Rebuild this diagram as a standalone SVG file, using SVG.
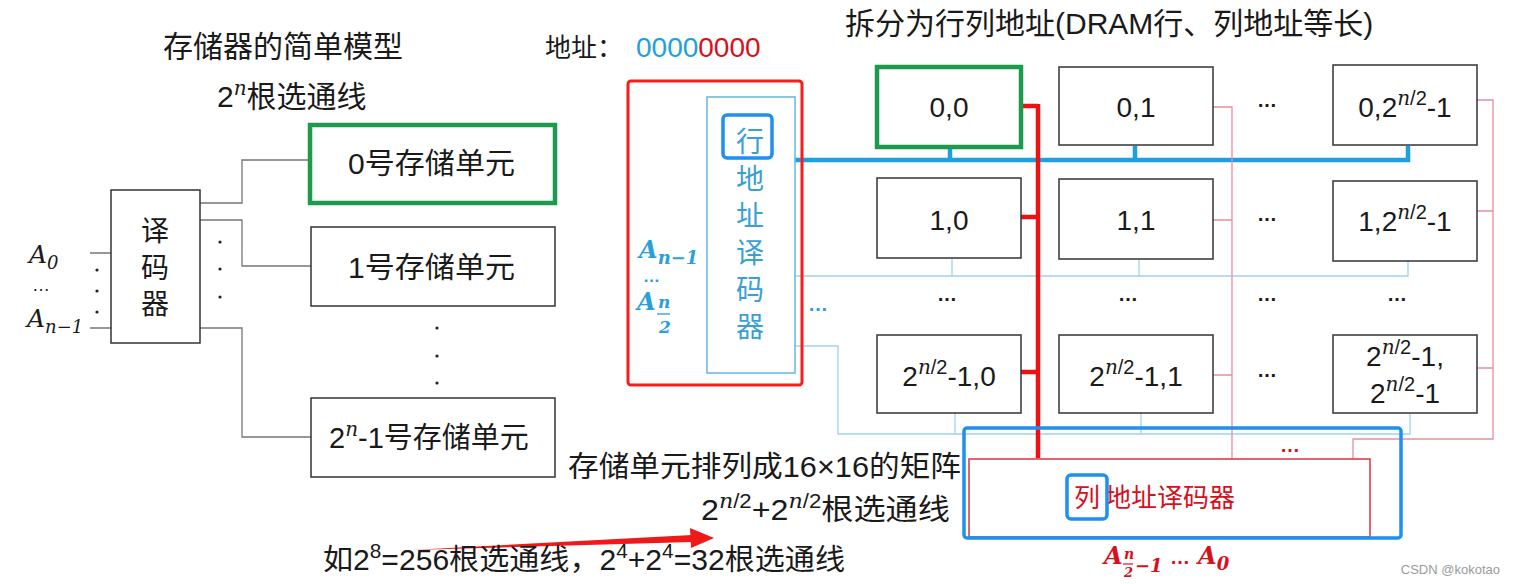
<svg xmlns="http://www.w3.org/2000/svg" width="1516" height="584" viewBox="0 0 1516 584">
<style>
.t{font-family:"Liberation Sans","Noto Sans CJK SC",sans-serif;fill:#1a1a1a}
.m{font-family:"DejaVu Serif","Liberation Serif",serif;font-style:italic}
.box{fill:#fff;stroke:#333;stroke-width:1.5}
.gbox{fill:#fff;stroke:#1e9a4c;stroke-width:4.5}
.wire{fill:none;stroke:#777;stroke-width:1.3}
.lb{fill:none;stroke:#9dd3ec;stroke-width:1.3}
.tb{fill:none;stroke:#1ea0e0;stroke-width:4.5}
.rl{fill:none;stroke:#ee1111;stroke-width:4.5}
.pk{fill:none;stroke:#e68fa0;stroke-width:1.3}
.hl{fill:none;stroke:#1e90f0;stroke-width:3.5}
.dot{fill:#222}
.cell{font-size:28px;text-anchor:middle}
.sup{font-size:20px}
.ell{font-size:20px;font-weight:bold}
</style>
<rect width="1516" height="584" fill="#fff"/>

<!-- titles -->
<g id="titles">
<text class="t" x="163" y="57" font-size="30">存储器的简单模型</text>
<text class="t" x="217" y="107" font-size="30">2<tspan class="m sup" dy="-12">n</tspan><tspan dy="12">根选通线</tspan></text>
<text class="t" x="545" y="57" font-size="26">地址：</text>
<text x="636" y="57" font-size="28" font-family="Liberation Sans,sans-serif"><tspan fill="#1ea0e0">0000</tspan><tspan fill="#d8101c">0000</tspan></text>
<text class="t" x="845" y="34" font-size="30">拆分为行列地址(DRAM行、列地址等长)</text>
</g>

<!-- connectors -->
<g id="connectors">
<path class="wire" d="M90,253 H111 M90,328 H111 M200,203 H242 V160 H310 M200,220 H242 V266 H311 M200,328 H242 V437 H311"/>
<path class="tb" d="M795,160 H1408 V146 M950,160 V147 M1135,160 V146"/>
<path class="lb" d="M795,276 H1408 V261 M952,276 V259 M1139,276 V260"/>
<path class="lb" d="M795,346 H838 V434 H1410 V414 M955,434 V413 M1141,434 V413"/>
<path class="rl" d="M1021,106 H1038 M1038,104 V458 M1021,217 H1038 M1021,372 H1038"/>
<path class="pk" d="M1213,107 H1232 V459 M1213,220 H1232 M1213,375 H1232"/>
<path class="pk" d="M1477,100 H1493 V439 H1353 V459 M1477,211 H1493 M1477,368 H1493"/>
<polygon points="412,550 692,535 692,542" fill="#ee1a1a"/>
<polygon points="690,528 714,538 691,548" fill="#ee1a1a"/>
</g>

<!-- left: simple model -->
<g id="inputs">
<text class="m" x="29" y="263" font-size="25" fill="#1a1a1a">A<tspan font-size="18" dy="6">0</tspan></text>
<text class="t" x="32" y="291" font-size="18">…</text>
<text class="m" x="27" y="327" font-size="25" fill="#1a1a1a">A<tspan font-size="18" dy="6">n−1</tspan></text>
<circle class="dot" cx="97" cy="270" r="1.6"/><circle class="dot" cx="97" cy="291" r="1.6"/><circle class="dot" cx="97" cy="312" r="1.6"/>
</g>
<g id="decoder">
<rect class="box" x="111" y="190" width="89" height="153"/>
<text class="t" x="155" y="241" font-size="28" text-anchor="middle">译</text>
<text class="t" x="155" y="278" font-size="28" text-anchor="middle">码</text>
<text class="t" x="155" y="314" font-size="28" text-anchor="middle">器</text>
<circle class="dot" cx="220" cy="242" r="1.6"/><circle class="dot" cx="220" cy="269" r="1.6"/><circle class="dot" cx="220" cy="297" r="1.6"/>
</g>
<g id="cell0">
<rect class="gbox" x="310" y="125" width="245" height="78"/>
<text class="t" x="348" y="174" font-size="29" textLength="167" lengthAdjust="spacingAndGlyphs">0号存储单元</text>
</g>
<g id="cell1">
<rect class="box" x="311" y="227" width="244" height="79"/>
<text class="t" x="348" y="278" font-size="29" textLength="167" lengthAdjust="spacingAndGlyphs">1号存储单元</text>
</g>
<g id="vdots">
<circle class="dot" cx="437" cy="328" r="1.6"/><circle class="dot" cx="437" cy="356" r="1.6"/><circle class="dot" cx="437" cy="383" r="1.6"/>
</g>
<g id="celln">
<rect class="box" x="311" y="398" width="244" height="79"/>
<text class="t" x="329" y="448" font-size="29">2<tspan class="m sup" dy="-12">n</tspan><tspan dy="12">-1号存储单元</tspan></text>
</g>

<!-- row decoder -->
<g id="row-decoder">
<rect x="628" y="81" width="174" height="304" rx="3" fill="none" stroke="#ff1a1a" stroke-width="3"/>
<rect x="707" y="97" width="88" height="276" fill="none" stroke="#6dbbdc" stroke-width="1.6"/>
<g class="t" font-size="28" text-anchor="middle" style="fill:#3a9fd2">
<text x="750" y="152">行</text>
<text x="750" y="189">地</text>
<text x="750" y="226">址</text>
<text x="750" y="263">译</text>
<text x="750" y="300">码</text>
<text x="750" y="337">器</text>
</g>
<rect class="hl" x="723" y="115" width="49" height="43" rx="4"/>
<g fill="#2ba0d8" font-weight="bold">
<text class="m" x="639" y="258" font-size="24">A<tspan font-size="18" dy="6">n−1</tspan></text>
<text class="t" x="643" y="282" font-size="17" style="fill:#2ba0d8">…</text>
<text class="m" x="637" y="310" font-size="24">A</text>
<text class="m" x="658" y="308" font-size="17">n</text>
<text class="m" x="659" y="333" font-size="17">2</text>
</g>
<line x1="657" y1="314" x2="670" y2="314" stroke="#2ba0d8" stroke-width="1.3"/>
<text class="t ell" x="818" y="311" text-anchor="middle" style="fill:#2ba0d8">…</text>
</g>

<!-- grid -->
<g id="c00"><rect class="gbox" x="877" y="67" width="144" height="80"/><text class="t cell" x="949" y="117">0,0</text></g>
<g id="c01"><rect class="box" x="1059" y="67" width="154" height="78"/><text class="t cell" x="1136" y="117">0,1</text></g>
<g id="c02"><rect class="box" x="1333" y="65" width="144" height="80"/><text class="t cell" x="1405" y="117">0,2<tspan class="m sup" dy="-12">n</tspan><tspan class="sup">/2</tspan><tspan dy="12">-1</tspan></text></g>
<g id="c10"><rect class="box" x="877" y="178" width="144" height="80"/><text class="t cell" x="949" y="230">1,0</text></g>
<g id="c11"><rect class="box" x="1059" y="179" width="154" height="80"/><text class="t cell" x="1136" y="230">1,1</text></g>
<g id="c12"><rect class="box" x="1333" y="181" width="144" height="80"/><text class="t cell" x="1405" y="231">1,2<tspan class="m sup" dy="-12">n</tspan><tspan class="sup">/2</tspan><tspan dy="12">-1</tspan></text></g>
<g id="c30"><rect class="box" x="877" y="335" width="144" height="78"/><text class="t cell" x="949" y="386">2<tspan class="m sup" dy="-12">n</tspan><tspan class="sup">/2</tspan><tspan dy="12">-1,0</tspan></text></g>
<g id="c31"><rect class="box" x="1059" y="335" width="154" height="78"/><text class="t cell" x="1136" y="386">2<tspan class="m sup" dy="-12">n</tspan><tspan class="sup">/2</tspan><tspan dy="12">-1,1</tspan></text></g>
<g id="c32"><rect class="box" x="1333" y="335" width="144" height="78"/>
<text class="t cell" x="1405" y="366">2<tspan class="m sup" dy="-12">n</tspan><tspan class="sup">/2</tspan><tspan dy="12">-1,</tspan></text>
<text class="t cell" x="1405" y="403">2<tspan class="m sup" dy="-12">n</tspan><tspan class="sup">/2</tspan><tspan dy="12">-1</tspan></text></g>
<g id="grid-dots" class="t ell" text-anchor="middle">
<text x="1267" y="107">…</text>
<text x="1267" y="221">…</text>
<text x="947" y="301">…</text>
<text x="1128" y="301">…</text>
<text x="1267" y="301">…</text>
<text x="1397" y="301">…</text>
<text x="1267" y="377">…</text>
<text x="1290" y="452" style="fill:#d8101c">…</text>
</g>

<!-- column decoder -->
<g id="col-decoder">
<rect x="969" y="459" width="401" height="78" fill="none" stroke="#d84050" stroke-width="1.6"/>
<text class="t" x="1074" y="507" font-size="26" style="fill:#d8101c">列<tspan dx="5">地址译码器</tspan></text>
<rect class="hl" x="1067" y="475" width="40" height="44" rx="4"/>
<rect class="hl" x="964" y="428" width="437" height="110" rx="3"/>
<g fill="#d8101c" font-weight="bold">
<text class="m" x="1104" y="564" font-size="24">A</text>
<text class="m" x="1124" y="559" font-size="14">n</text>
<line x1="1123" y1="564" x2="1133" y2="564" stroke="#d8101c" stroke-width="1.2"/>
<text class="m" x="1124" y="577" font-size="13">2</text>
<text class="m" x="1135" y="572" font-size="18">−1</text>
<text class="t" x="1170" y="564" font-size="20" style="fill:#d8101c">…</text>
<text class="m" x="1198" y="564" font-size="24">A<tspan font-size="18" dy="6">0</tspan></text>
</g>
</g>

<!-- notes -->
<g id="notes">
<text class="t" x="568" y="477" font-size="29" textLength="393" lengthAdjust="spacingAndGlyphs">存储单元排列成16×16的矩阵</text>
<text class="t" x="701" y="520" font-size="29" textLength="249" lengthAdjust="spacingAndGlyphs">2<tspan class="m sup" dy="-12">n</tspan><tspan class="sup">/2</tspan><tspan dy="12">+2</tspan><tspan class="m sup" dy="-12">n</tspan><tspan class="sup">/2</tspan><tspan dy="12">根选通线</tspan></text>
<text class="t" x="323" y="570" font-size="29" textLength="522" lengthAdjust="spacingAndGlyphs">如2<tspan class="sup" dy="-12">8</tspan><tspan dy="12">=256根选通线，2</tspan><tspan class="sup" dy="-12">4</tspan><tspan dy="12">+2</tspan><tspan class="sup" dy="-12">4</tspan><tspan dy="12">=32根选通线</tspan></text>
<text x="1500" y="574" font-size="13" text-anchor="end" font-family="Liberation Sans,sans-serif" fill="#9a9a9a">CSDN @kokotao</text>
</g>
</svg>
